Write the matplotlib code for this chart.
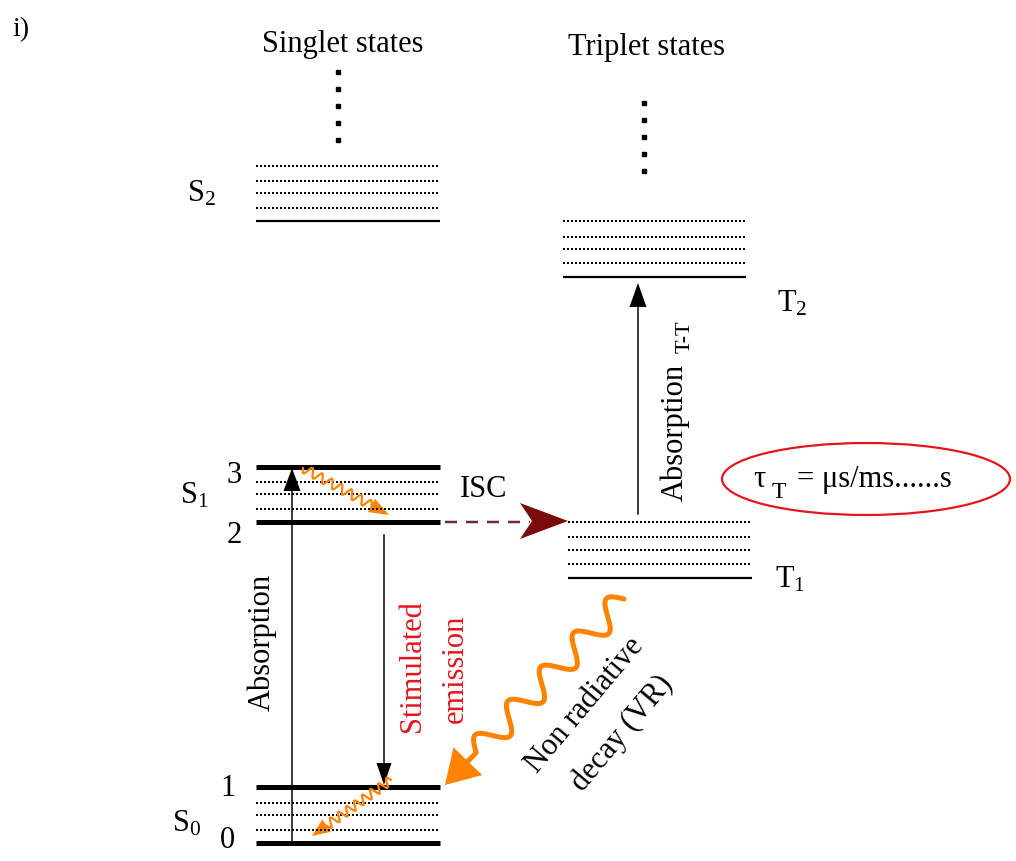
import numpy as np
import matplotlib
matplotlib.use("Agg")
import matplotlib.pyplot as plt
from matplotlib.patches import Ellipse, Polygon

plt.rcParams['font.family'] = ['Liberation Serif', 'DejaVu Serif']
plt.rcParams['mathtext.fontset'] = 'custom'
plt.rcParams['mathtext.rm'] = 'Liberation Serif'
plt.rcParams['mathtext.it'] = 'Liberation Serif:italic'

# ---- diagram data (pixel layout of the energy levels) ----
singlet_x = [256, 440]
triplet_x_T2 = [563, 746]
triplet_x_T1 = [568, 752]

S2_dotted = [166, 181, 193, 208]
S2_solid = 221
S1_thick = [467, 522]
S1_dotted = [482, 494, 509]
S0_thick = [787, 843]
S0_dotted = [803, 815, 830]
T2_dotted = [221, 237, 249, 263]
T2_solid = 277
T1_dotted = [522, 537, 550, 564]
T1_solid = 578

singlet_dots_y = [72, 89, 106, 123, 140]
triplet_dots_y = [103, 120, 137, 154, 171]

BLACK = 'black'
ORANGE = '#ff8200'
RED = '#e3141c'
DARKRED = '#7b0a0a'

fig = plt.figure(figsize=(10.16, 8.61), dpi=100)
ax = fig.add_axes([0, 0, 1, 1])
ax.set_xlim(0, 1016)
ax.set_ylim(861, 0)
ax.axis('off')

PT = 72 / 100.0  # px -> pt


def hline(y, xs, lw_px, style='-'):
    if style == 'dot':
        ax.plot(xs, [y, y], color=BLACK, lw=2.0 * PT, linestyle=(0, (1.0, 1.0)),
                solid_capstyle='butt', dash_capstyle='butt')
    else:
        ax.plot(xs, [y, y], color=BLACK, lw=lw_px * PT, solid_capstyle='butt')


def head(tip, direction, length, width, color, notch=0.0):
    d = np.array(direction, float)
    d /= np.hypot(*d)
    n = np.array([-d[1], d[0]])
    tip = np.array(tip, float)
    base = tip - d * length
    pts = [tip, base + n * width / 2, tip - d * length * (1 - notch), base - n * width / 2]
    ax.add_patch(Polygon(pts, closed=True, color=color, lw=0))
    return base


def straight_arrow(p0, tip, hl, hw, lw_px=1.5, color=BLACK):
    p0 = np.array(p0, float)
    tip = np.array(tip, float)
    base = head(tip, tip - p0, hl, hw, color)
    ax.plot([p0[0], base[0] + (tip - p0)[0] * 0.01], [p0[1], base[1] + (tip - p0)[1] * 0.01],
            color=color, lw=lw_px * PT)


def wavy_arrow(p0, tip, periods, amp, lw_px, hl, hw, color=ORANGE, lead=0.0):
    p0 = np.array(p0, float)
    tip = np.array(tip, float)
    base = head(tip, tip - p0, hl, hw, color)
    d = base - p0
    L = np.hypot(*d)
    u = d / L
    n = np.array([-u[1], u[0]])
    t = np.linspace(0, 1, 600)
    wave_end = 1 - lead / L
    tt = np.clip(t / wave_end, 0, 1)
    off = amp * np.sin(2 * np.pi * periods * tt) * (t <= wave_end)
    xs = p0[0] + d[0] * t + n[0] * off
    ys = p0[1] + d[1] * t + n[1] * off
    ax.plot(xs, ys, color=color, lw=lw_px * PT, solid_capstyle='round')


# ---- levels ----
for y in S2_dotted:
    hline(y, singlet_x, 0, 'dot')
hline(S2_solid, singlet_x, 2.2)
for y in S1_thick:
    hline(y, singlet_x, 5)
for y in S1_dotted:
    hline(y, singlet_x, 0, 'dot')
for y in S0_thick:
    hline(y, singlet_x, 5)
for y in S0_dotted:
    hline(y, singlet_x, 0, 'dot')
for y in T2_dotted:
    hline(y, triplet_x_T2, 0, 'dot')
hline(T2_solid, triplet_x_T2, 2.2)
for y in T1_dotted:
    hline(y, triplet_x_T1, 0, 'dot')
hline(T1_solid, triplet_x_T1, 2.2)

ax.plot([338] * len(singlet_dots_y), singlet_dots_y, 's', color=BLACK, ms=4 * PT, lw=0)
ax.plot([644] * len(triplet_dots_y), triplet_dots_y, 's', color=BLACK, ms=4 * PT, lw=0)

# ---- text labels ----
FS = 22
ax.text(12, 36, 'i)', fontsize=20, ha='left', va='baseline')
ax.text(343, 52, 'Singlet states', fontsize=FS, ha='center', va='baseline')
ax.text(646, 55, 'Triplet states', fontsize=FS, ha='center', va='baseline')
ax.text(187, 202, r'$\mathrm{S_2}$', fontsize=FS, ha='left', va='baseline')
ax.text(180, 503, r'$\mathrm{S_1}$', fontsize=FS, ha='left', va='baseline')
ax.text(172, 832, r'$\mathrm{S_0}$', fontsize=FS, ha='left', va='baseline')
ax.text(777, 312, r'$\mathrm{T_2}$', fontsize=FS, ha='left', va='baseline')
ax.text(775, 587, r'$\mathrm{T_1}$', fontsize=FS, ha='left', va='baseline')
ax.text(234, 483, '3', fontsize=FS, ha='center', va='baseline')
ax.text(234, 543, '2', fontsize=FS, ha='center', va='baseline')
ax.text(228, 796, '1', fontsize=FS, ha='center', va='baseline')
ax.text(227, 855, '0', fontsize=FS, ha='center', va='bottom')
ax.text(484, 497, 'ISC', fontsize=FS, ha='center', va='baseline')

ax.text(262, 642, 'Absorption', fontsize=FS, rotation=90, ha='center', va='center')
ax.text(413, 666, 'Stimulated', fontsize=FS, rotation=90, ha='center', va='center', color=RED)
ax.text(455, 669, 'emission', fontsize=FS, rotation=90, ha='center', va='center', color=RED)
ax.text(675, 432, 'Absorption', fontsize=FS, rotation=90, ha='center', va='center')
ax.text(685, 337, 'T-T', fontsize=16, rotation=90, ha='center', va='center')

ax.text(585, 705, 'Non radiative', fontsize=FS, rotation=50, rotation_mode='anchor',
        ha='center', va='center')
ax.text(622, 733, 'decay (VR)', fontsize=FS, rotation=50, rotation_mode='anchor',
        ha='center', va='center')

ax.text(753, 487, 'τ', fontsize=FS, ha='left', va='baseline')
ax.text(772, 498, 'T', fontsize=17, ha='left', va='baseline')
ax.text(797, 487, '= μs/ms......s', fontsize=FS, ha='left', va='baseline')
ax.add_patch(Ellipse((866, 479), 288, 72, fill=False, edgecolor=RED, lw=2.2 * PT))

# ---- arrows ----
straight_arrow((292, 843), (292, 468), 23, 17)
straight_arrow((384, 535), (384, 785), 22, 15)
straight_arrow((638, 514), (638, 283), 24, 17)

# ISC dashed arrow
ax.plot([445, 530], [522, 522], color='#6b2d2d', lw=2.5 * PT, linestyle=(0, (4.8, 3.6)))
head((568, 521), (1, 0), 48, 36, DARKRED, notch=0.25)

# vibrational relaxation wavy arrows
wavy_arrow((303, 468), (389, 515), 7, 4.5, 2.2, 20, 15)
wavy_arrow((391, 780), (312, 836), 8, 4.5, 2.2, 18, 15)
wavy_arrow((624, 599), (445, 785), 4.5, 13, 5.0, 33, 40, lead=12)

fig.savefig('out.png', dpi=100)
